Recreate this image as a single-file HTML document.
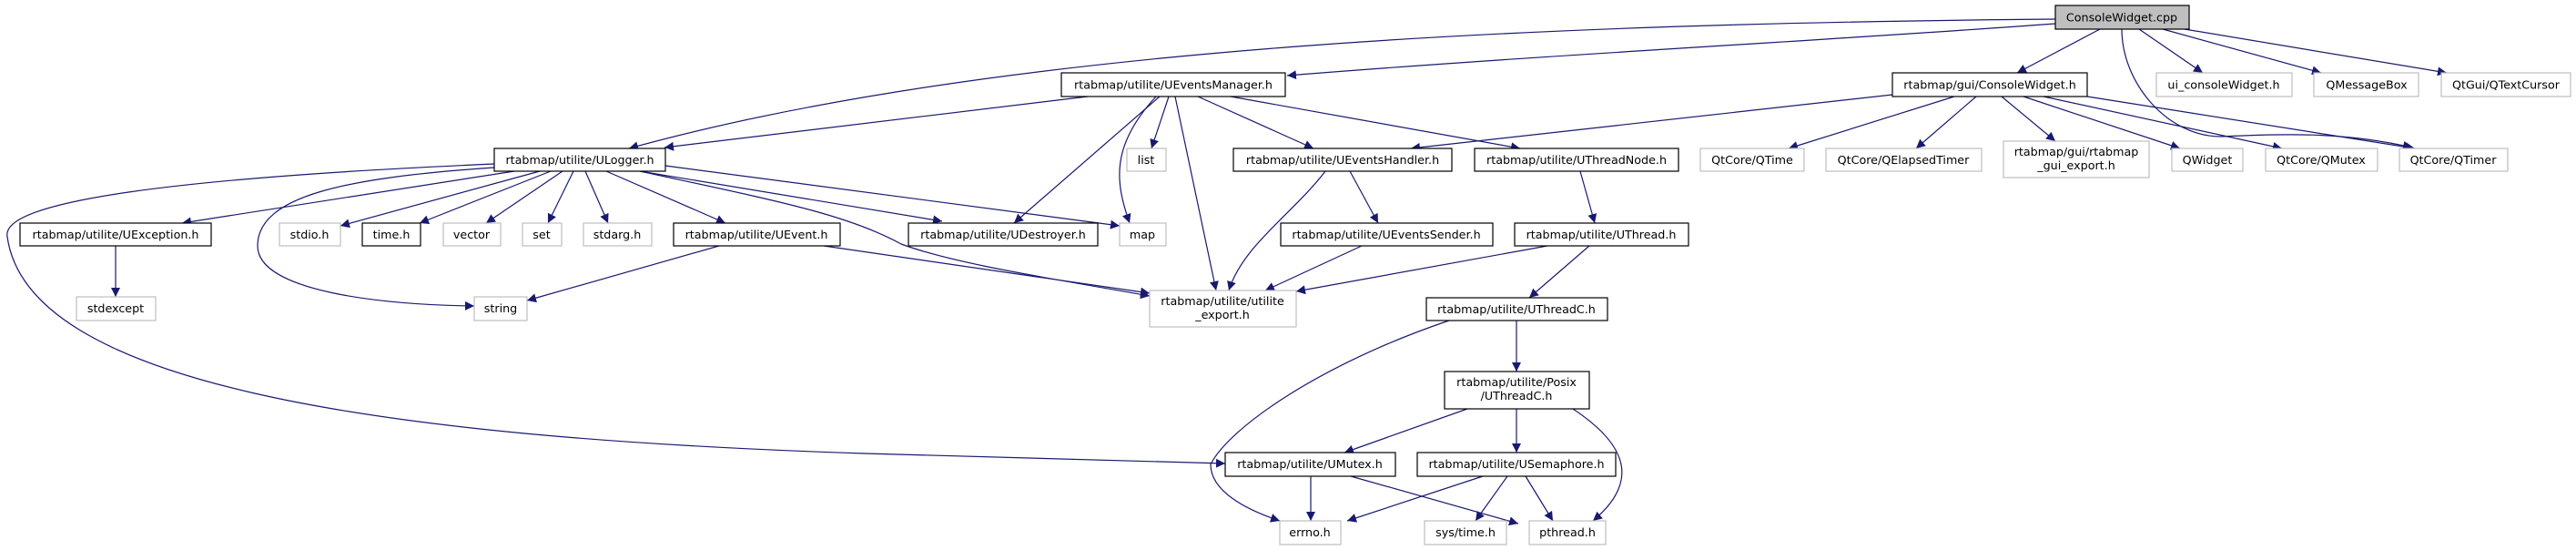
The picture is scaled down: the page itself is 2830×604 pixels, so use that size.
<!DOCTYPE html>
<html><head><meta charset="utf-8"><style>
html,body{margin:0;padding:0;background:#fff;}
svg{display:block;}
text{font-family:"DejaVu Sans","Liberation Sans",sans-serif;font-size:12.7px;fill:#000;text-anchor:middle;}
.e{fill:none;stroke:#191970;stroke-width:1.2;}
.b{fill:#fff;stroke:#000;stroke-width:1.2;}
.g{fill:#fff;stroke:#bfbfbf;stroke-width:1.2;}
</style></head><body>
<svg width="2830" height="604" viewBox="0 0 2830 604" xmlns="http://www.w3.org/2000/svg">
<defs><marker id="a" viewBox="0 0 10 10" refX="10" refY="5" markerWidth="10" markerHeight="10" markerUnits="userSpaceOnUse" orient="auto"><path d="M0,0 L10,5 L0,10 z" fill="#191970"/></marker></defs>
<g marker-end="url(#a)">
<path class="e" d="M2258,21 C1700,26 1100,50 691,163"/>
<path class="e" d="M2258,26 C2000,45 1700,60 1414,83"/>
<path class="e" d="M2307,32 L2216,80"/>
<path class="e" d="M2350,32 L2420,80"/>
<path class="e" d="M2376,32 L2550,80"/>
<path class="e" d="M2400,32 L2688,80"/>
<path class="e" d="M2331,32 C2331,90 2380,150 2440,150 C2520,146 2580,146 2650,162"/>
<path class="e" d="M2079,104 L1550,163"/>
<path class="e" d="M2147,106 L1965,163"/>
<path class="e" d="M2171,106 L2105,163"/>
<path class="e" d="M2199,106 L2258,155"/>
<path class="e" d="M2223,106 L2395,163"/>
<path class="e" d="M2245,106 L2507,163"/>
<path class="e" d="M2293,106 L2653,163"/>
<path class="e" d="M1195,106 L730,162"/>
<path class="e" d="M1284,106 L1265,163"/>
<path class="e" d="M1316,106 L1443,163"/>
<path class="e" d="M1352,106 L1670,163"/>
<path class="e" d="M1274,106 L1114,245"/>
<path class="e" d="M1270,106 C1220,160 1225,200 1241,245"/>
<path class="e" d="M1291,106 L1336,319"/>
<path class="e" d="M565,188 L200,245"/>
<path class="e" d="M593,188 L374,248"/>
<path class="e" d="M605,188 L461,245"/>
<path class="e" d="M618,188 L534,245"/>
<path class="e" d="M630,188 L602,245"/>
<path class="e" d="M643,188 L668,245"/>
<path class="e" d="M666,188 L797,245"/>
<path class="e" d="M703,188 L1035,243"/>
<path class="e" d="M731,182 L1230,248"/>
<path class="e" d="M703,188 C850,220 930,235 990,268 C1050,290 1150,305 1263,325"/>
<path class="e" d="M543,184 C380,195 283,215 283,270 C283,320 420,335 521,336"/>
<path class="e" d="M543,180 C200,195 0,220 8,260 C30,420 400,480 950,498 L1346,509"/>
<path class="e" d="M127,270 L127,326"/>
<path class="e" d="M790,270 L579,330"/>
<path class="e" d="M905,270 L1263,322"/>
<path class="e" d="M1456,188 C1420,235 1365,270 1350,319"/>
<path class="e" d="M1483,188 L1514,245"/>
<path class="e" d="M1736,188 L1752,245"/>
<path class="e" d="M1496,270 L1390,319"/>
<path class="e" d="M1700,270 L1424,320"/>
<path class="e" d="M1746,270 L1680,327"/>
<path class="e" d="M1666,352 L1666,408"/>
<path class="e" d="M1592,352 C1450,400 1350,470 1330,510 C1330,540 1370,560 1406,572"/>
<path class="e" d="M1612,449 L1477,497"/>
<path class="e" d="M1666,449 L1666,497"/>
<path class="e" d="M1728,449 C1790,490 1800,530 1750,572"/>
<path class="e" d="M1440,523 L1440,572"/>
<path class="e" d="M1484,523 L1668,575"/>
<path class="e" d="M1629,523 L1480,572"/>
<path class="e" d="M1656,523 L1621,572"/>
<path class="e" d="M1676,523 L1706,572"/>
</g>
<rect x="2258" y="6" width="147" height="26" fill="#bfbfbf" stroke="#000" stroke-width="1.2"/><text x="2331" y="23.5">ConsoleWidget.cpp</text>
<rect class="b" x="1166" y="80" width="246" height="26"/><text x="1289" y="97.5">rtabmap/utilite/UEventsManager.h</text>
<rect class="b" x="2079" y="80" width="214" height="26"/><text x="2186" y="97.5">rtabmap/gui/ConsoleWidget.h</text>
<rect class="g" x="2369" y="80" width="149" height="26"/><text x="2443" y="97.5">ui_consoleWidget.h</text>
<rect class="g" x="2542" y="80" width="115" height="26"/><text x="2600" y="97.5">QMessageBox</text>
<rect class="g" x="2682" y="80" width="142" height="26"/><text x="2753" y="97.5">QtGui/QTextCursor</text>
<rect class="b" x="543" y="163" width="188" height="25"/><text x="637" y="180">rtabmap/utilite/ULogger.h</text>
<rect class="g" x="1238" y="163" width="43" height="25"/><text x="1259" y="180">list</text>
<rect class="b" x="1355" y="163" width="240" height="25"/><text x="1475" y="180">rtabmap/utilite/UEventsHandler.h</text>
<rect class="b" x="1620" y="163" width="224" height="25"/><text x="1732" y="180">rtabmap/utilite/UThreadNode.h</text>
<rect class="g" x="1868" y="163" width="114" height="25"/><text x="1925" y="180">QtCore/QTime</text>
<rect class="g" x="2006" y="163" width="171" height="25"/><text x="2091" y="180">QtCore/QElapsedTimer</text>
<rect class="g" x="2201" y="155" width="160" height="40"/><text x="2281" y="171">rtabmap/gui/rtabmap</text><text x="2281" y="186">_gui_export.h</text>
<rect class="g" x="2386" y="163" width="78" height="25"/><text x="2425" y="180">QWidget</text>
<rect class="g" x="2489" y="163" width="123" height="25"/><text x="2550" y="180">QtCore/QMutex</text>
<rect class="g" x="2636" y="163" width="119" height="25"/><text x="2695" y="180">QtCore/QTimer</text>
<rect class="b" x="22" y="245" width="210" height="25"/><text x="127" y="262">rtabmap/utilite/UException.h</text>
<rect class="g" x="307" y="245" width="67" height="25"/><text x="340" y="262">stdio.h</text>
<rect class="b" x="398" y="245" width="64" height="25"/><text x="430" y="262">time.h</text>
<rect class="g" x="487" y="245" width="63" height="25"/><text x="518" y="262">vector</text>
<rect class="g" x="574" y="245" width="43" height="25"/><text x="595" y="262">set</text>
<rect class="g" x="641" y="245" width="75" height="25"/><text x="678" y="262">stdarg.h</text>
<rect class="b" x="740" y="245" width="183" height="25"/><text x="831" y="262">rtabmap/utilite/UEvent.h</text>
<rect class="b" x="998" y="245" width="208" height="25"/><text x="1102" y="262">rtabmap/utilite/UDestroyer.h</text>
<rect class="g" x="1230" y="245" width="51" height="25"/><text x="1255" y="262">map</text>
<rect class="b" x="1407" y="245" width="233" height="25"/><text x="1523" y="262">rtabmap/utilite/UEventsSender.h</text>
<rect class="b" x="1664" y="245" width="191" height="25"/><text x="1759" y="262">rtabmap/utilite/UThread.h</text>
<rect class="g" x="84" y="326" width="87" height="26"/><text x="127" y="343">stdexcept</text>
<rect class="g" x="521" y="326" width="58" height="26"/><text x="550" y="343">string</text>
<rect class="g" x="1263" y="319" width="161" height="40"/><text x="1343" y="335">rtabmap/utilite/utilite</text><text x="1343" y="350">_export.h</text>
<rect class="b" x="1567" y="327" width="199" height="25"/><text x="1666" y="344">rtabmap/utilite/UThreadC.h</text>
<rect class="b" x="1587" y="408" width="159" height="41"/><text x="1666" y="424">rtabmap/utilite/Posix</text><text x="1666" y="439">/UThreadC.h</text>
<rect class="b" x="1346" y="497" width="187" height="26"/><text x="1439" y="514">rtabmap/utilite/UMutex.h</text>
<rect class="b" x="1557" y="497" width="218" height="26"/><text x="1666" y="514">rtabmap/utilite/USemaphore.h</text>
<rect class="g" x="1406" y="572" width="67" height="26"/><text x="1439" y="589">errno.h</text>
<rect class="g" x="1565" y="572" width="90" height="26"/><text x="1610" y="589">sys/time.h</text>
<rect class="g" x="1680" y="572" width="84" height="26"/><text x="1722" y="589">pthread.h</text>
</svg>
</body></html>
